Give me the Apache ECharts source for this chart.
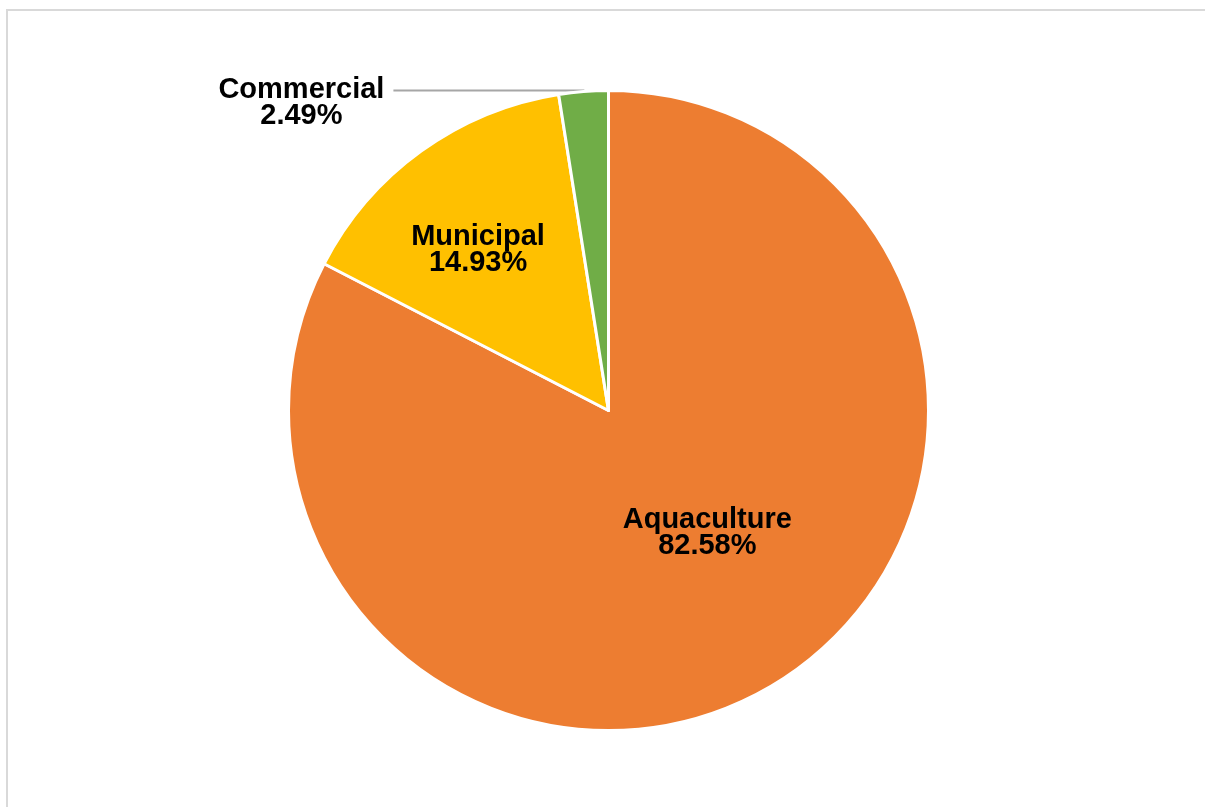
<!DOCTYPE html>
<html>
<head>
<meta charset="utf-8">
<script src="https://cdn.jsdelivr.net/npm/echarts@6/dist/echarts.min.js"></script>
<style>
html,body{margin:0;padding:0;background:#fff;}
#chart{width:1205px;height:807px;}
</style>
</head>
<body>
<div id="chart"></div>
<script>
const categories = ['Aquaculture', 'Municipal', 'Commercial'];
const values = [82.58, 14.93, 2.49];
const colors = ['#ED7D31', '#FFC000', '#70AD47'];
const labelPositions = ['inside', 'inside', 'outside'];

const chart = echarts.init(document.getElementById('chart'));
const labelFont = {
  fontFamily: '"Liberation Sans", Arial, sans-serif',
  fontWeight: 'bold',
  fontSize: 29,
  lineHeight: 26,
  color: '#000'
};
const data = categories.map((c, i) => {
  const item = {
    name: c,
    value: values[i],
    itemStyle: { color: colors[i] },
    label: Object.assign({ show: true, position: labelPositions[i] }, labelFont)
  };
  if (labelPositions[i] === 'outside') {
    item.label.formatter = p => '{a|' + p.name + '}\n{a|' + p.value.toFixed(2) + '%}';
    item.label.rich = { a: Object.assign({ width: 166, align: 'center' }, labelFont) };
    item.labelLine = { show: true, length: 1, length2: 190, lineStyle: { color: '#A6A6A6', width: 2 } };
  }
  return item;
});

chart.setOption({
  backgroundColor: '#fff',
  animation: false,
  graphic: [{
    type: 'rect',
    shape: { x: 7, y: 10, width: 1400, height: 1000 },
    style: { fill: 'none', stroke: '#D9D9D9', lineWidth: 2 },
    silent: true
  }],
  series: [{
    type: 'pie',
    center: [608.5, 410.5],
    radius: 320,
    startAngle: 90,
    clockwise: true,
    avoidLabelOverlap: false,
    itemStyle: { borderColor: '#fff', borderWidth: 3 },
    label: {
      formatter: p => p.name + '\n' + p.value.toFixed(2) + '%',
      align: 'center'
    },
    labelLayout: function (p) {
      if (p.dataIndex === 0) return { dx: 14, dy: -17 };
      if (p.dataIndex === 1) return { dx: -35, dy: -28 };
      return { dx: -4, dy: 13 };
    },
    emphasis: { disabled: true },
    data: data
  }]
});
</script>
</body>
</html>
